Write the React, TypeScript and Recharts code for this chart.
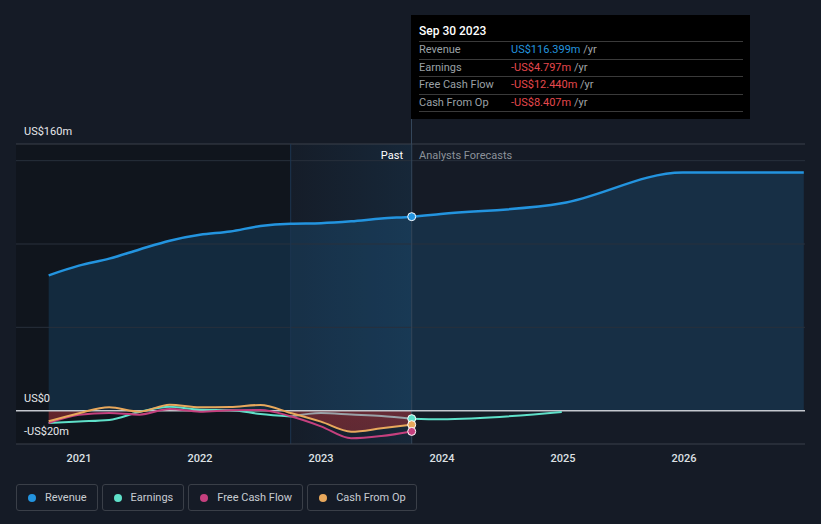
import React from 'react';
import {
  ComposedChart, Area, Line, XAxis, YAxis, ReferenceArea, ReferenceLine, ReferenceDot,
} from 'recharts';

// quarterly trailing figures, US$m
const pastDates = [2020.75, 2021.0, 2021.25, 2021.5, 2021.75, 2022.0, 2022.25, 2022.5, 2022.75, 2023.0, 2023.25, 2023.5, 2023.75];
const revenuePast = [81.2, 87, 91.2, 96.7, 102, 105.5, 107.5, 110.8, 112.2, 112.5, 113.6, 115.3, 116.399];
const earningsPast = [-7.4, -6.5, -5.6, -0.8, 2.3, 0.5, 0.3, -2, -3.5, -1.4, -2.3, -3.2, -4.797];
const fcfPast = [-7.4, -2.5, -1.4, -2.4, 1.0, -0.6, 0.2, 0.4, -3.4, -9.4, -16.6, -15.2, -12.44];
const cfoPast = [-6.4, -1.5, 2.0, -0.6, 3.6, 2.0, 2.2, 3.4, -1.4, -6.6, -12.6, -10.6, -8.407];

// analyst forecasts
const forecastDates = [2023.75, 2023.99, 2024.99, 2025.99, 2026.99];
const revenueForecast = [116.399, 118, 124.4, 142.9, 142.9];
const earningsForecast = [-4.797, -5.1, -0.8];

const yearTicks = [2021, 2022, 2023, 2024, 2025, 2026];
const yLabels = [
  { text: 'US$160m', value: 160 },
  { text: 'US$0', value: 0 },
  { text: '-US$20m', value: -20 },
];

const pairs = (dates: number[], vals: number[]) => vals.map((v, i) => ({ t: dates[i], v }));

const revenueData = [...pairs(pastDates, revenuePast), ...pairs(forecastDates.slice(1), revenueForecast.slice(1))];
const earningsTeal = pairs(pastDates.slice(0, 9), earningsPast.slice(0, 9));
const earningsGrey = pairs(pastDates.slice(8), earningsPast.slice(8));
const earningsFc = pairs(forecastDates, earningsForecast);
const fcfData = pairs(pastDates, fcfPast);
const cfoData = pairs(pastDates, cfoPast);

const COLORS = { revenue: '#2394df', earnings: '#5fe0c9', fcf: '#c5407e', cfo: '#e8a85c' };

const W = 821;
const H = 524;
const PLOT_TOP = 144;
const PLOT_BOTTOM = 444;
const yPix = (v: number) => PLOT_BOTTOM - ((v + 20) / 180) * (PLOT_BOTTOM - PLOT_TOP);

const last = <T,>(a: T[]) => a[a.length - 1];
const fmt = (v: number) => (v < 0 ? '-' : '') + 'US$' + Math.abs(v).toFixed(3) + 'm';

const tooltipRows = [
  { label: 'Revenue', value: last(revenuePast) },
  { label: 'Earnings', value: last(earningsPast) },
  { label: 'Free Cash Flow', value: last(fcfPast) },
  { label: 'Cash From Op', value: last(cfoPast) },
];

const legendItems = [
  { label: 'Revenue', color: COLORS.revenue },
  { label: 'Earnings', color: COLORS.earnings },
  { label: 'Free Cash Flow', color: COLORS.fcf },
  { label: 'Cash From Op', color: COLORS.cfo },
];

export default function App() {
  const font = 'Roboto, "Noto Sans", sans-serif';
  const zeroOffset = yPix(0) / H;
  return (
    <div style={{ position: 'absolute', left: 0, top: 0, width: W, height: H, background: '#151b26', fontFamily: font, overflow: 'hidden' }}>
      <ComposedChart width={W} height={H} margin={{ top: PLOT_TOP, right: 16, bottom: 50, left: 16 }}>
        <defs>
          <linearGradient id="pastGlow" x1="0" y1="0" x2="1" y2="0">
            <stop offset="0%" stopColor="#2394df" stopOpacity={0.03} />
            <stop offset="100%" stopColor="#2394df" stopOpacity={0.2} />
          </linearGradient>
          <linearGradient id="negFill" gradientUnits="userSpaceOnUse" x1="0" y1="0" x2="0" y2={H}>
            <stop offset={0} stopColor="#9b2f35" stopOpacity={0} />
            <stop offset={zeroOffset} stopColor="#9b2f35" stopOpacity={0} />
            <stop offset={zeroOffset} stopColor="#9b2f35" stopOpacity={0.6} />
            <stop offset={1} stopColor="#9b2f35" stopOpacity={0.35} />
          </linearGradient>
        </defs>
        <XAxis
          type="number"
          dataKey="t"
          domain={[2020.48, 2027.0]}
          allowDataOverflow
          ticks={yearTicks}
          tickFormatter={(v) => String(v)}
          axisLine={{ stroke: '#3a404b' }}
          tickLine={false}
          tickMargin={4}
          height={30}
          tick={{ fill: '#dde0e4', fontSize: 11, fontWeight: 500, fontFamily: font }}
        />
        <YAxis type="number" hide domain={[-20, 160]} allowDataOverflow />
        <ReferenceArea x1={2020.48} x2={2022.75} y1={-20} y2={160} fill="#0c0f15" fillOpacity={0.45} stroke="none" />
        <ReferenceArea x1={2022.75} x2={2023.75} y1={-20} y2={160} fill="url(#pastGlow)" stroke="none" />
        <Area data={revenueData} dataKey="v" type="monotone" baseValue={0} stroke="none" fill={COLORS.revenue} fillOpacity={0.17} isAnimationActive={false} />
        <Area data={cfoData} dataKey="v" type="monotone" baseValue={0} stroke="none" fill="url(#negFill)" fillOpacity={1} isAnimationActive={false} />
        <ReferenceLine y={50} stroke="#28303c" />
        <ReferenceLine y={100} stroke="#28303c" />
        <ReferenceLine y={150} stroke="#28303c" />
        <ReferenceLine y={160} stroke="#3a404b" />
        <ReferenceLine x={2022.75} stroke="#1d3550" />
        <ReferenceLine x={2023.75} stroke="#34465a" />
        <ReferenceLine y={0} stroke="#c4c8ce" strokeWidth={1.5} />
        <Line data={revenueData} dataKey="v" type="monotone" stroke={COLORS.revenue} strokeWidth={2.5} dot={false} isAnimationActive={false} />
        <Line data={earningsTeal} dataKey="v" type="monotone" stroke={COLORS.earnings} strokeWidth={2} dot={false} isAnimationActive={false} />
        <Line data={earningsGrey} dataKey="v" type="monotone" stroke="#9aa2a8" strokeWidth={2} dot={false} isAnimationActive={false} />
        <Line data={earningsFc} dataKey="v" type="monotone" stroke={COLORS.earnings} strokeWidth={2} dot={false} isAnimationActive={false} />
        <Line data={fcfData} dataKey="v" type="monotone" stroke={COLORS.fcf} strokeWidth={2} dot={false} isAnimationActive={false} />
        <Line data={cfoData} dataKey="v" type="monotone" stroke={COLORS.cfo} strokeWidth={2} dot={false} isAnimationActive={false} />
        <ReferenceDot x={2023.75} y={last(revenuePast)} r={4} fill={COLORS.revenue} stroke="#ffffff" strokeWidth={1} />
        <ReferenceDot x={2023.75} y={last(earningsPast)} r={4} fill={COLORS.earnings} stroke="#ffffff" strokeWidth={1} />
        <ReferenceDot x={2023.75} y={last(cfoPast)} r={4} fill={COLORS.cfo} stroke="#ffffff" strokeWidth={1} />
        <ReferenceDot x={2023.75} y={last(fcfPast)} r={4} fill={COLORS.fcf} stroke="#ffffff" strokeWidth={1} />
      </ComposedChart>

      {yLabels.map((l) => (
        <div key={l.text} style={{ position: 'absolute', left: 24, top: yPix(l.value) - 19, fontSize: 11, color: '#e6e8eb', lineHeight: '14px' }}>
          {l.text}
        </div>
      ))}

      <div style={{ position: 'absolute', left: 340, width: 63, textAlign: 'right', top: 149, fontSize: 11, color: '#ffffff', lineHeight: '14px' }}>Past</div>
      <div style={{ position: 'absolute', left: 419, top: 149, fontSize: 11, color: '#8c929a', lineHeight: '14px' }}>Analysts Forecasts</div>

      <div style={{ position: 'absolute', left: 411, top: 119, width: 1, height: 25, background: '#34465a' }} />
      <div style={{ position: 'absolute', left: 411, top: 15, width: 339, height: 104, background: '#000000' }}>
        <div style={{ position: 'absolute', left: 8, top: 9, fontSize: 12, fontWeight: 500, color: '#ffffff', lineHeight: '14px' }}>Sep 30 2023</div>
        {tooltipRows.map((r, i) => (
          <div key={r.label} style={{ position: 'absolute', left: 8, width: 324, top: 26 + i * 17.5, height: 17.5, borderTop: '1px solid #3a3a3a', fontSize: 11, lineHeight: '16px' }}>
            <span style={{ position: 'absolute', left: 0, color: '#9ba0a6' }}>{r.label}</span>
            <span style={{ position: 'absolute', left: 92, whiteSpace: 'nowrap' }}>
              <span style={{ color: r.value < 0 ? '#e5484d' : COLORS.revenue }}>{fmt(r.value)}</span>
              <span style={{ color: '#a0a4a8' }}> /yr</span>
            </span>
          </div>
        ))}
        <div style={{ position: 'absolute', left: 8, width: 324, top: 96, borderTop: '1px solid #3a3a3a' }} />
      </div>

      <div style={{ position: 'absolute', left: 16, top: 484, display: 'flex', gap: 4 }}>
        {legendItems.map((it) => (
          <div key={it.label} style={{ display: 'flex', alignItems: 'center', height: 25, padding: '0 10px 0 11px', border: '1px solid #3a3f48', borderRadius: 3, fontSize: 11, color: '#c8ccd2' }}>
            <span style={{ width: 8, height: 8, borderRadius: 4, background: it.color, marginRight: 9 }} />
            {it.label}
          </div>
        ))}
      </div>
    </div>
  );
}
